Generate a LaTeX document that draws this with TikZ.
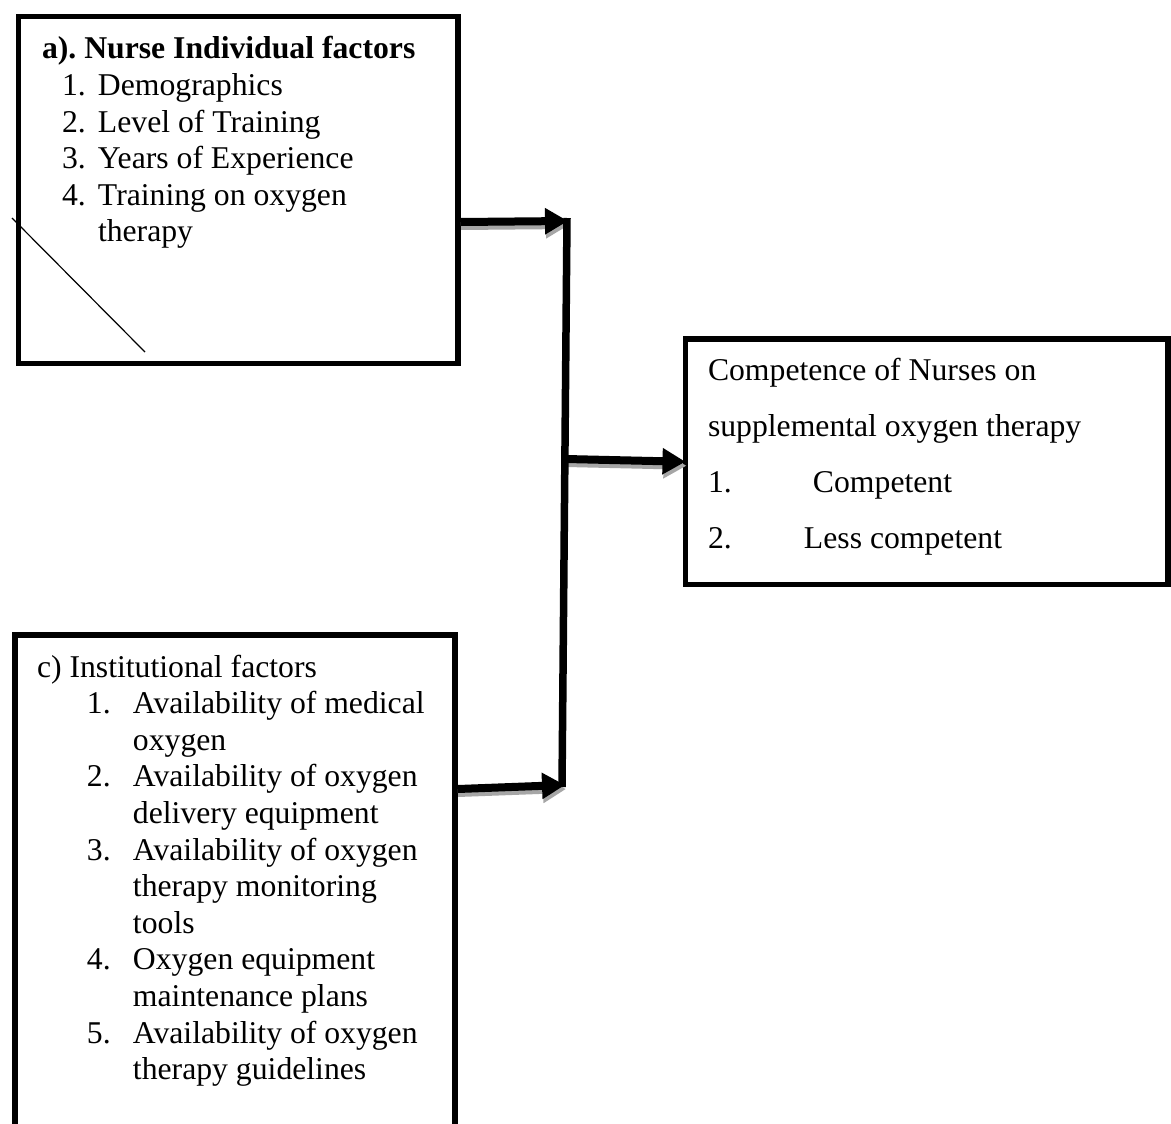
\documentclass[tikz,border=0pt]{standalone}
\usepackage{fontspec}
\setmainfont{Liberation Serif}
\usetikzlibrary{arrows.meta}
\frenchspacing
\begin{document}
\begin{tikzpicture}[x=1pt,y=-1pt,
  boxnode/.style={draw=black, line width=5.5pt, inner sep=0pt, outer sep=0pt},
  txt/.style={anchor=base west, inner sep=0pt, outer sep=0pt, align=left,
    font=\fontsize{31.7}{36.6}\selectfont},
  fatarrow/.style={line width=8pt, -{Triangle[length=23pt,width=25pt]}},
  shadowarrow/.style={line width=8pt, draw=black!35, -{Triangle[length=23pt,width=25pt]}}]
\clip (0,0) rectangle (1171,1124);
\fill[white] (0,0) rectangle (1171,1124);

% boxes
\node[boxnode, minimum width=439.5pt, minimum height=347pt] (b1) at (238.25,190) {};
\node[boxnode, minimum width=482.5pt, minimum height=245.5pt] (b2) at (926.75,461.75) {};
\node[boxnode, minimum width=440pt, minimum height=505pt] (b3) at (235,887.5) {};

% texts
\node[txt] (t1) at (42,59) {\begin{tabular}[t]{@{}l@{}}
\textbf{a).\ Nurse Individual factors}\\
\hspace*{20pt}\makebox[36pt][l]{1.}Demographics\\
\hspace*{20pt}\makebox[36pt][l]{2.}Level of Training\\
\hspace*{20pt}\makebox[36pt][l]{3.}Years of Experience\\
\hspace*{20pt}\makebox[36pt][l]{4.}Training on oxygen\\
\hspace*{56pt}therapy
\end{tabular}};

\node[txt] (t3) at (37,677) {\begin{tabular}[t]{@{}l@{}}
c) Institutional factors\\
\hspace*{50pt}\makebox[46pt][l]{1.}Availability of medical\\
\hspace*{96pt}oxygen\\
\hspace*{50pt}\makebox[46pt][l]{2.}Availability of oxygen\\
\hspace*{96pt}delivery equipment\\
\hspace*{50pt}\makebox[46pt][l]{3.}Availability of oxygen\\
\hspace*{96pt}therapy monitoring\\
\hspace*{96pt}tools\\
\hspace*{50pt}\makebox[46pt][l]{4.}Oxygen equipment\\
\hspace*{96pt}maintenance plans\\
\hspace*{50pt}\makebox[46pt][l]{5.}Availability of oxygen\\
\hspace*{96pt}therapy guidelines
\end{tabular}};

\node[txt, font=\fontsize{31.7}{56}\selectfont] (t2) at (708,380) {\begin{tabular}[t]{@{}l@{}}
Competence of Nurses on\\
supplemental oxygen therapy\\
\makebox[105pt][l]{1.}Competent\\
\makebox[96pt][l]{2.}Less competent
\end{tabular}};

% diagonal stroke
\coordinate (d1) at (12,218);
\coordinate (d2) at (145,352);
\draw[line width=1.2pt] (d1) -- (d2);

% connector junctions
\coordinate (j1) at (568,221);
\coordinate (jtop) at (567,218);
\coordinate (jbot) at (562,787);
\coordinate (jm) at (566,459);
\coordinate (j3) at (565,785);
\coordinate (s1) at (461,222);
\coordinate (s3) at (458,789);

% shadows
\draw[shadowarrow] ([yshift=-4pt]s1) -- ([shift={(1pt,-4pt)}]j1);
\draw[shadowarrow] ([yshift=-4pt]jm) -- ([shift={(1pt,-4pt)}]b2.west);
\draw[shadowarrow] ([yshift=-4pt]s3) -- ([shift={(1pt,-4pt)}]j3);

% black connectors
\draw[line width=7.5pt] (jtop) -- (jbot);
\draw[fatarrow] (s1) -- (j1);
\draw[fatarrow] (jm) -- (b2.west);
\draw[fatarrow] (s3) -- (j3);
\end{tikzpicture}
\end{document}
